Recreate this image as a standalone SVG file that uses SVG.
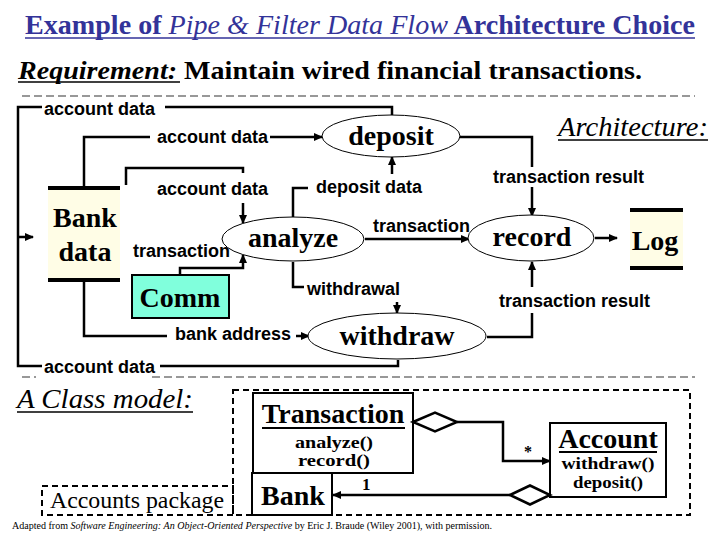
<svg xmlns="http://www.w3.org/2000/svg" width="720" height="540" viewBox="0 0 720 540">
<style>
.lbl{font-family:"Liberation Sans",Arial,sans-serif;font-weight:bold;font-size:18px;fill:#000}
.nd{font-family:"Liberation Serif","Times New Roman",serif;font-weight:bold;font-size:28px;fill:#000;text-anchor:middle}
.op{font-family:"Liberation Serif","Times New Roman",serif;font-weight:bold;font-size:17px;fill:#000;text-anchor:middle}
.ser{font-family:"Liberation Serif","Times New Roman",serif;fill:#000}
.wire{fill:none;stroke:#000;stroke-width:2.5}
.ell{fill:#fff;stroke:#000;stroke-width:1}
.bar{stroke:#000;stroke-width:4}
.store{fill:#fffde6}
.rule{stroke:#333;stroke-width:1.2;stroke-dasharray:8 4;fill:none}
.pkg{fill:none;stroke:#000;stroke-width:2;stroke-dasharray:6 4}
.cls{fill:#fff;stroke:#000;stroke-width:2}
</style>
<defs>
<marker id="ah" markerUnits="userSpaceOnUse" markerWidth="9" markerHeight="8" refX="8" refY="4" orient="auto">
<path d="M0,0 L9,4 L0,8 Z" fill="#000"/>
</marker>
</defs>
<rect width="720" height="540" fill="#fff"/>

<!-- headings -->
<text x="25" y="34" font-family="Liberation Serif,Times New Roman,serif" font-size="27" fill="#333399" textLength="670" lengthAdjust="spacingAndGlyphs"><tspan font-weight="bold">Example of </tspan><tspan font-style="italic">Pipe &amp; Filter Data Flow</tspan><tspan font-weight="bold"> Architecture Choice</tspan></text>
<line x1="25" y1="38" x2="695" y2="38" stroke="#333399" stroke-width="1.5"/>
<text x="18" y="79" class="ser" font-size="26" font-weight="bold" textLength="624" lengthAdjust="spacingAndGlyphs"><tspan font-style="italic">Requirement:</tspan><tspan>  Maintain wired financial transactions.</tspan></text>
<line x1="18" y1="82" x2="180" y2="82" stroke="#000" stroke-width="1.5"/>

<path class="rule" d="M22,96 H695"/>
<path class="rule" d="M22,377 H36 M152,377 H695"/>

<text x="558" y="136" class="ser" font-size="28" font-style="italic" textLength="150" lengthAdjust="spacingAndGlyphs">Architecture:</text>
<line x1="558" y1="140" x2="708" y2="140" stroke="#000" stroke-width="1.5"/>

<!-- connectors -->
<g id="connectors">
<path class="wire" d="M42,107 H18 V366 H42"/>
<path class="wire" d="M165,107 H392 V115"/>
<path class="wire" d="M160,366 H398 V360"/>
<path class="wire" d="M18,237 H33" marker-end="url(#ah)"/>
<path class="wire" d="M84,188 V137 H150"/>
<path class="wire" d="M270,137 H322" marker-end="url(#ah)"/>
<path class="wire" d="M126,185 V168 H243 V173"/>
<path class="wire" d="M243,203 V223" marker-end="url(#ah)"/>
<path class="wire" d="M293,217 V188 H308"/>
<path class="wire" d="M392,174 V157" marker-end="url(#ah)"/>
<path class="wire" d="M365,239 H469" marker-end="url(#ah)"/>
<path class="wire" d="M460,137 H532 V167"/>
<path class="wire" d="M532,187 V216" marker-end="url(#ah)"/>
<path class="wire" d="M595,238 H617" marker-end="url(#ah)"/>
<path class="wire" d="M487,337 H532 V313"/>
<path class="wire" d="M532,287 V262" marker-end="url(#ah)"/>
<path class="wire" d="M293,262 V287 H304"/>
<path class="wire" d="M397,302 V313" marker-end="url(#ah)"/>
<path class="wire" d="M180,275 V268 H243 V255" marker-end="url(#ah)"/>
<path class="wire" d="M84,280 V336 H167"/>
<path class="wire" d="M296,336 H309" marker-end="url(#ah)"/>
<!-- class diagram links -->
<path class="wire" d="M457,422 H503 V461 H550" marker-end="url(#ah)"/>
<path class="wire" d="M510,495 H333" marker-end="url(#ah)"/>
</g>

<!-- labels -->
<g id="labels">
<text class="lbl" x="44" y="115">account data</text>
<text class="lbl" x="157" y="143">account data</text>
<text class="lbl" x="157" y="195">account data</text>
<text class="lbl" x="316" y="193">deposit data</text>
<text class="lbl" x="373" y="232">transaction</text>
<text class="lbl" x="133" y="257">transaction</text>
<text class="lbl" x="307" y="295">withdrawal</text>
<text class="lbl" x="175" y="340">bank address</text>
<text class="lbl" x="493" y="183">transaction result</text>
<text class="lbl" x="499" y="307">transaction result</text>
<text class="lbl" x="44" y="373">account data</text>
</g>

<!-- DFD nodes -->
<g id="bank-data">
<rect class="store" x="48" y="188" width="72" height="92"/>
<line class="bar" x1="48" y1="188" x2="120" y2="188"/>
<line class="bar" x1="48" y1="280" x2="120" y2="280"/>
<text class="nd" x="85" y="227">Bank</text>
<text class="nd" x="85" y="261">data</text>
</g>
<g id="deposit">
<ellipse class="ell" cx="391" cy="136" rx="69" ry="21"/>
<text class="nd" x="391" y="145" font-size="29">deposit</text>
</g>
<g id="analyze">
<ellipse class="ell" cx="293" cy="239" rx="71" ry="22"/>
<text class="nd" x="293" y="247">analyze</text>
</g>
<g id="record">
<ellipse class="ell" cx="531" cy="238" rx="63" ry="23"/>
<text class="nd" x="532" y="246">record</text>
</g>
<g id="log">
<rect class="store" x="630" y="210" width="53" height="58"/>
<line class="bar" x1="630" y1="210" x2="683" y2="210"/>
<line class="bar" x1="630" y1="268" x2="683" y2="268"/>
<text class="nd" x="655" y="250">Log</text>
</g>
<g id="withdraw">
<ellipse class="ell" cx="397" cy="336" rx="89" ry="23"/>
<text class="nd" x="397" y="345" font-size="29">withdraw</text>
</g>
<g id="comm">
<rect x="132" y="275" width="97" height="43" fill="#80ffdc" stroke="#000" stroke-width="2"/>
<text class="nd" x="180" y="307" font-size="27">Comm</text>
</g>

<!-- class model -->
<text x="17" y="408" class="ser" font-size="27" font-style="italic" textLength="176" lengthAdjust="spacingAndGlyphs">A Class model:</text>
<line x1="17" y1="412" x2="193" y2="412" stroke="#000" stroke-width="1.5"/>

<g id="accounts-package">
<rect class="pkg" x="233" y="390" width="457" height="125"/>
<rect class="pkg" x="42" y="486" width="191" height="29"/>
<text x="50" y="508" class="ser" font-size="23" textLength="174" lengthAdjust="spacingAndGlyphs">Accounts package</text>
</g>
<g id="transaction">
<rect class="cls" x="253" y="393" width="160" height="80"/>
<text class="nd" x="333" y="423">Transaction</text>
<line x1="262" y1="428" x2="405" y2="428" stroke="#000" stroke-width="2"/>
<text class="op" x="334" y="448" textLength="78" lengthAdjust="spacingAndGlyphs">analyze()</text>
<text class="op" x="334" y="466" textLength="72" lengthAdjust="spacingAndGlyphs">record()</text>
</g>
<g id="bank">
<rect class="cls" x="252" y="473" width="80" height="42"/>
<text class="nd" x="293" y="505" font-size="26">Bank</text>
</g>
<g id="account">
<rect class="cls" x="550" y="423" width="116" height="74"/>
<text class="nd" x="608" y="448">Account</text>
<line x1="559" y1="452" x2="657" y2="452" stroke="#000" stroke-width="2"/>
<text class="op" x="608" y="469" font-size="18" textLength="93" lengthAdjust="spacingAndGlyphs">withdraw()</text>
<text class="op" x="608" y="488" font-size="18" textLength="70" lengthAdjust="spacingAndGlyphs">deposit()</text>
</g>
<g id="aggregations">
<polygon points="413,422 435,412.5 457,422 435,431.5" fill="#fff" stroke="#000" stroke-width="2.5"/>
<polygon points="510,495 530,485.5 550,495 530,504.5" fill="#fff" stroke="#000" stroke-width="2.5"/>
<text class="ser" x="524" y="457" font-size="16" font-weight="bold">*</text>
<text class="ser" x="362" y="490" font-size="17" font-weight="bold">1</text>
</g>

<text x="12" y="529" class="ser" font-size="11" textLength="480" lengthAdjust="spacingAndGlyphs">Adapted from <tspan font-style="italic">Software Engineering: An Object-Oriented Perspective</tspan> by Eric J. Braude (Wiley 2001), with permission.</text>
</svg>
